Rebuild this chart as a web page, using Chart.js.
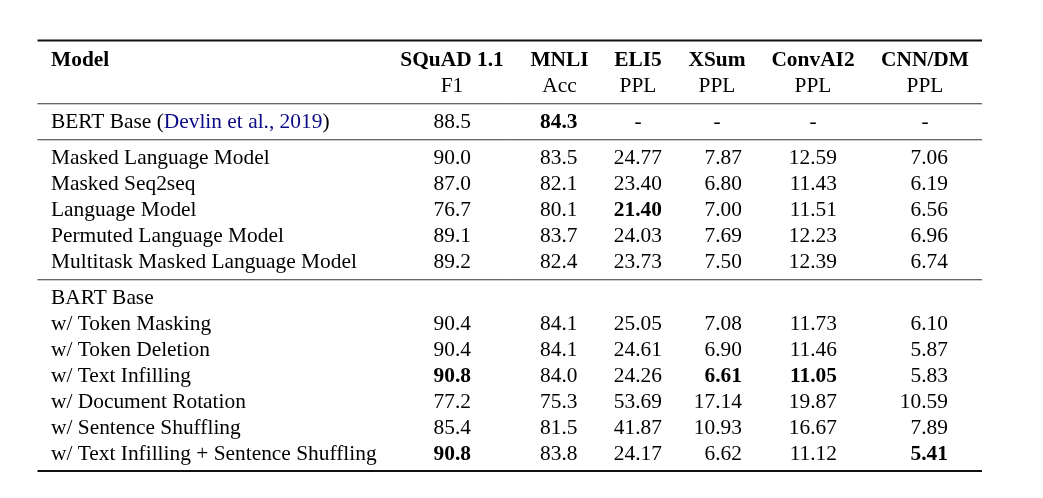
<!DOCTYPE html>
<html>
<head>
<meta charset="utf-8">
<script src="https://cdn.jsdelivr.net/npm/chart.js@4.4.1/dist/chart.umd.min.js"></script>
<style>
html, body { margin: 0; padding: 0; background: #ffffff; }
canvas { display: block; }
</style>
</head>
<body>
<canvas id="c" width="1043" height="498"></canvas>
<script>
// ---------------- DATA ----------------
const models = [
  "BERT Base",
  "Masked Language Model",
  "Masked Seq2seq",
  "Language Model",
  "Permuted Language Model",
  "Multitask Masked Language Model",
  "BART Base",
  "w/ Token Masking",
  "w/ Token Deletion",
  "w/ Text Infilling",
  "w/ Document Rotation",
  "w/ Sentence Shuffling",
  "w/ Text Infilling + Sentence Shuffling"
];
const citation = "Devlin et al., 2019";       // shown after "BERT Base"
const groupSizes = [1, 5, 7];                  // rows between the mid rules
const datasetsNames = ["SQuAD 1.1", "MNLI", "ELI5", "XSum", "ConvAI2", "CNN/DM"];
const metricNames = ["F1", "Acc", "PPL", "PPL", "PPL", "PPL"];
const higherIsBetter = [true, true, false, false, false, false];
const decimals = [1, 1, 2, 2, 2, 2];
// "-" = not reported, null = empty cell
const squad   = [88.5, 90.0, 87.0, 76.7, 89.1, 89.2, null, 90.4, 90.4, 90.8, 77.2, 85.4, 90.8];
const mnli    = [84.3, 83.5, 82.1, 80.1, 83.7, 82.4, null, 84.1, 84.1, 84.0, 75.3, 81.5, 83.8];
const eli5    = ["-", 24.77, 23.40, 21.40, 24.03, 23.73, null, 25.05, 24.61, 24.26, 53.69, 41.87, 24.17];
const xsum    = ["-", 7.87, 6.80, 7.00, 7.69, 7.50, null, 7.08, 6.90, 6.61, 17.14, 10.93, 6.62];
const convai2 = ["-", 12.59, 11.43, 11.51, 12.23, 12.39, null, 11.73, 11.46, 11.05, 19.87, 16.67, 11.12];
const cnndm   = ["-", 7.06, 6.19, 6.56, 6.96, 6.74, null, 6.10, 5.87, 5.83, 10.59, 7.89, 5.41];
const columnsValues = [squad, mnli, eli5, xsum, convai2, cnndm];

// ---------------- LAYOUT / STYLE ----------------
const W = 1043, H = 498;
const FONT_FAMILY = '"Liberation Serif", "Times New Roman", Times, serif';
const FONT_SIZE = 21.4;
const LINK_COLOR = "#0a0a85";
const TEXT_COLOR = "#000000";
const tableLeft = 37.5, tableRight = 982;
const modelTextX = 51;
const colCenter = [452, 559.5, 638, 717, 813, 925];
const colRight  = [471, 577.5, 662, 742, 837, 948];
const topRuleY = 40.5;
const headerBaseline = 66, headerLine2Gap = 26;
const rowPitch = 26, ruleGap = 36, ruleOffset = 11.75, bottomRuleOffset = 11;

// compute row baselines and rule positions from the group structure
const ruleYs = [{ y: topRuleY, w: 1.9 }];
const header2Y = headerBaseline + headerLine2Gap;
let prev = header2Y;
const rowY = [];
groupSizes.forEach((n) => {
  ruleYs.push({ y: prev + ruleOffset, w: 1.0 });
  let y = prev + ruleGap;
  for (let i = 0; i < n; i++) { rowY.push(y); prev = y; y += rowPitch; }
});
ruleYs.push({ y: prev + bottomRuleOffset, w: 1.9 });

// best value per column -> bold
const bestVals = columnsValues.map((vals, c) => {
  const nums = vals.filter(v => typeof v === "number");
  return higherIsBetter[c] ? Math.max(...nums) : Math.min(...nums);
});

// ---------------- BUILD DATASETS ----------------
const textDatasets = [];
function textSet(points) {
  return {
    type: "scatter", isText: true,
    data: points.map(p => ({ x: p.x, y: p.y })),
    cells: points,
    pointRadius: 0, pointHoverRadius: 0, showLine: false
  };
}
// header
const headerCells = [{ x: modelTextX, y: headerBaseline, text: "Model", bold: true, align: "left" }];
datasetsNames.forEach((n, c) => {
  headerCells.push({ x: colCenter[c], y: headerBaseline, text: n, bold: true, align: "center" });
  headerCells.push({ x: colCenter[c], y: header2Y, text: metricNames[c], bold: false, align: "center" });
});
textDatasets.push(textSet(headerCells));
// model names
textDatasets.push(textSet(models.map((m, r) => ({
  x: modelTextX, y: rowY[r], text: m, bold: false, align: "left",
  cite: r === 0 ? citation : null
}))));
// value columns
columnsValues.forEach((vals, c) => {
  const cells = [];
  vals.forEach((v, r) => {
    if (v === null) return;
    if (v === "-") {
      cells.push({ x: colCenter[c], y: rowY[r], text: "-", bold: false, align: "center" });
    } else {
      cells.push({ x: colRight[c], y: rowY[r], text: v.toFixed(decimals[c]), bold: v === bestVals[c], align: "right" });
    }
  });
  textDatasets.push(textSet(cells));
});
// rules
const ruleDatasets = ruleYs.map(r => ({
  type: "line", isText: false,
  data: [{ x: tableLeft, y: r.y }, { x: tableRight, y: r.y }],
  borderColor: r.w > 1.5 ? "#111111" : "#333333",
  borderWidth: r.w, pointRadius: 0, showLine: true, fill: false, tension: 0
}));

// ---------------- TEXT PLUGIN ----------------
const cellTextPlugin = {
  id: "cellText",
  afterDatasetsDraw(chart) {
    const ctx = chart.ctx;
    ctx.save();
    ctx.textBaseline = "alphabetic";
    chart.data.datasets.forEach((ds, di) => {
      if (!ds.isText) return;
      const meta = chart.getDatasetMeta(di);
      meta.data.forEach((el, i) => {
        const cell = ds.cells[i];
        ctx.font = (cell.bold ? "bold " : "") + FONT_SIZE + "px " + FONT_FAMILY;
        ctx.fillStyle = TEXT_COLOR;
        if (cell.cite) {
          ctx.textAlign = "left";
          let x = el.x;
          const pre = cell.text + " (";
          ctx.fillText(pre, x, el.y); x += ctx.measureText(pre).width;
          ctx.fillStyle = LINK_COLOR;
          ctx.fillText(cell.cite, x, el.y); x += ctx.measureText(cell.cite).width;
          ctx.fillStyle = TEXT_COLOR;
          ctx.fillText(")", x, el.y);
        } else {
          ctx.textAlign = cell.align;
          ctx.fillText(cell.text, el.x, el.y);
        }
      });
    });
    ctx.restore();
  }
};

const whiteBg = {
  id: "whiteBg",
  beforeDraw(chart) {
    const ctx = chart.ctx;
    ctx.save(); ctx.fillStyle = "#ffffff";
    ctx.fillRect(0, 0, chart.width, chart.height); ctx.restore();
  }
};

new Chart(document.getElementById("c"), {
  type: "scatter",
  data: { datasets: [...ruleDatasets, ...textDatasets] },
  options: {
    responsive: false,
    devicePixelRatio: 1,
    animation: false,
    layout: { padding: 0 },
    events: [],
    plugins: { legend: { display: false }, tooltip: { enabled: false }, title: { display: false } },
    scales: {
      x: { type: "linear", min: 0, max: W, display: false },
      y: { type: "linear", min: 0, max: H, reverse: true, display: false }
    }
  },
  plugins: [whiteBg, cellTextPlugin]
});
</script>
</body>
</html>
